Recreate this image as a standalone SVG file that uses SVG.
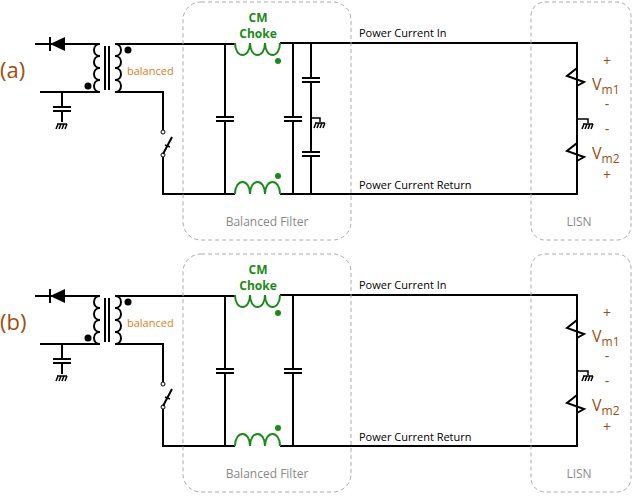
<svg xmlns="http://www.w3.org/2000/svg" width="636" height="498" viewBox="0 0 636 498">
<style>
.w{fill:none;stroke:#000;stroke-width:2}
.c{fill:none;stroke:#000;stroke-width:2}
.g{fill:none;stroke:#000;stroke-width:1.5}
.ch{fill:none;stroke:#1a8a1a;stroke-width:2}
.box{fill:none;stroke:#aaa;stroke-dasharray:4 3}
.t{font-family:"Open Sans","DejaVu Sans",sans-serif}
.lab{font-size:11px;fill:#000}
.br{fill:#9c4f12}
.gray{font-size:12px;fill:#888}
</style>
<defs>
<g id="gnd"><path class="g" d="M-5,0H5M-4,0L-6,5M-1,0L-3,5M2,0L0,5M5,0L3,5"/></g>
<g id="hcap"><path class="c" d="M-9,-2H9M-9,2H9"/></g>
<g id="panel">
<g id="src">
<path class="w" d="M35,44H100M40,92H100"/>
<path d="M50,44L65,37V51Z" fill="#000"/><path class="w" d="M50,37V51"/>
<path class="w" d="M100,44c-8,0 -8,12 0,12c-8,0 -8,12 0,12c-8,0 -8,12 0,12c-8,0 -8,12 0,12"/>
<path class="w" d="M105,46V90M109,46V90"/>
<path class="w" d="M115,44c8,0 8,12 0,12c8,0 8,12 0,12c8,0 8,12 0,12c8,0 8,12 0,12"/>
<circle cx="128" cy="50" r="3.5"/><circle cx="88" cy="86" r="3.5"/>
<path class="w" d="M62,92V107M62,111V122"/><use href="#hcap" x="62" y="109"/>
<use href="#gnd" x="62" y="124"/>
<path class="w" d="M115,92H163V130M163,157V194H183"/>
<circle cx="163" cy="132" r="2" fill="#fff" stroke="#000"/><circle cx="163" cy="155" r="2" fill="#fff" stroke="#000"/>
<path class="w" d="M163,154L172,137"/><path class="g" d="M165,145l5,2"/>
<path class="w" d="M115,44H235"/>
<text class="t" x="127" y="75" font-size="11" fill="#e07b1a">balanced</text>
</g>
<g id="filter">
<path class="w" d="M183,194H235M280,194H577V43H280"/>
<path class="w" d="M225,43V117M225,121V194"/><use href="#hcap" x="225" y="119"/>
<path class="w" d="M293,43V117M293,121V194"/><use href="#hcap" x="293" y="119"/>
<path class="ch" d="M235,43c0,16 15,16 15,0c0,16 15,16 15,0c0,16 15,16 15,0"/>
<path class="ch" d="M235,194c0,-16 15,-16 15,0c0,-16 15,-16 15,0c0,-16 15,-16 15,0"/>
<circle cx="278" cy="61" r="3" fill="#1a8a1a"/><circle cx="278" cy="176" r="3" fill="#1a8a1a"/>
<text class="t" x="258" y="22" font-size="12" font-weight="bold" fill="#1a8a1a" text-anchor="middle">CM</text>
<text class="t" x="258" y="38" font-size="12" font-weight="bold" fill="#1a8a1a" text-anchor="middle">Choke</text>
<text class="t lab" x="359" y="37">Power Current In</text>
<text class="t lab" x="359" y="189">Power Current Return</text>
<rect class="box" x="183" y="2" width="168" height="238" rx="18"/>
<text class="t gray" x="267" y="226" text-anchor="middle">Balanced Filter</text>
</g>
<g id="lisn">
<path class="w" d="M577,43V68L567,76L584,82L577,86V143L567,151L584,157L577,161V194"/>
<path class="g" d="M577,119H588V123"/><use href="#gnd" x="588" y="124"/>
<rect class="box" x="531" y="2" width="100" height="238" rx="14"/>
<text class="t gray" x="579" y="226" text-anchor="middle">LISN</text>
<g class="t br" font-size="14" text-anchor="middle">
<text x="607" y="66">+</text><text x="607" y="109">-</text><text x="607" y="134">-</text><text x="607" y="180">+</text>
</g>
<text class="t br" x="592" y="90" font-size="16">V<tspan font-size="12" dy="4">m1</tspan></text>
<text class="t br" x="592" y="159" font-size="16">V<tspan font-size="12" dy="4">m2</tspan></text>
</g>
</g>
</defs>
<g id="circuitA">
<use href="#panel"/>
<g id="capA">
<path class="w" d="M311,43V78M311,82V152M311,156V194"/><use href="#hcap" x="311" y="80"/><use href="#hcap" x="311" y="154"/>
<path class="g" d="M311,118H320V122"/><use href="#gnd" x="320" y="123"/>
</g>
<text class="t br" x="0" y="78" font-size="22">(a)</text>
</g>
<g id="circuitB" transform="translate(0,252)">
<use href="#panel"/>
<text class="t br" x="0" y="78" font-size="22">(b)</text>
</g>
</svg>
